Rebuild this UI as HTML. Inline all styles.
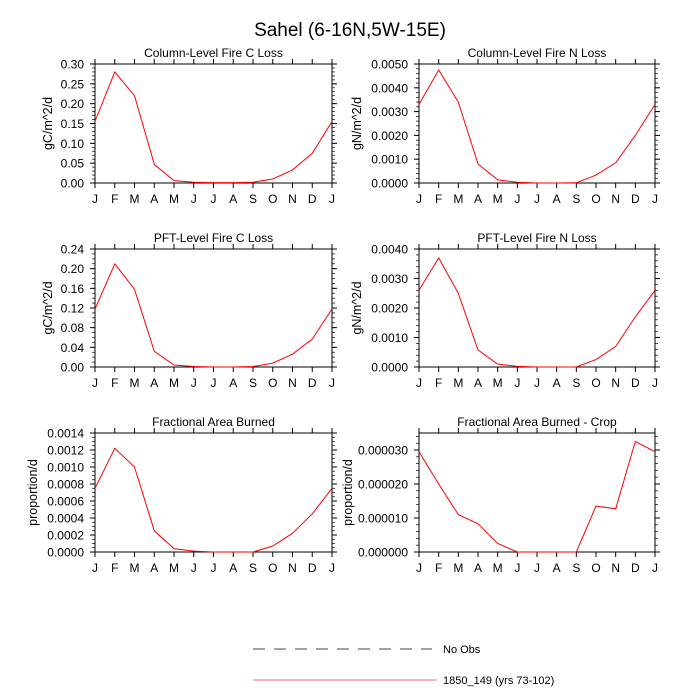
<!DOCTYPE html>
<html><head><meta charset="utf-8">
<style>
body{margin:0;background:#fff;}
svg{display:block;font-family:"Liberation Sans",Arial,sans-serif;}
</style></head>
<body>
<svg id="chart" width="700" height="700" viewBox="0 0 700 700">
<text x="350" y="36" text-anchor="middle" font-size="19">Sahel (6-16N,5W-15E)</text>
<g id="panels"></g>
<g>
<line x1="253" y1="649" x2="432" y2="649" stroke="#444" stroke-width="1" stroke-dasharray="12,9"/>
<text x="443" y="653" font-size="11">No Obs</text>
<line x1="253" y1="680" x2="437" y2="680" stroke="#f66" stroke-width="1"/>
<text x="443" y="684" font-size="11">1850_149 (yrs 73-102)</text>
</g>
</svg>
<script>
const months = ["J","F","M","A","M","J","J","A","S","O","N","D","J"];
const colC = [0.155,0.28,0.22,0.047,0.006,0.002,0.001,0.001,0.002,0.01,0.033,0.075,0.155];
const colN = [0.0033,0.00475,0.0034,0.0008,0.00013,0.00003,0,0,0.00001,0.00033,0.00085,0.002,0.0033];
const pftC = [0.118,0.21,0.158,0.032,0.004,0.001,0,0,0.001,0.008,0.026,0.057,0.118];
const pftN = [0.0026,0.0037,0.0025,0.00058,0.0001,0.00002,0,0,0,0.00025,0.0007,0.0017,0.0026];
const fab = [0.00075,0.00122,0.001,0.00025,0.00004,0.00001,0,0,0,0.00007,0.00022,0.00045,0.00075];
const fabCrop = [0.0000295,0.00002,0.000011,0.0000083,0.0000025,0,0,0,0,0.0000135,0.0000127,0.0000325,0.0000295];
const ticksColC = ["0.00","0.05","0.10","0.15","0.20","0.25","0.30"];
const ticksColN = ["0.0000","0.0010","0.0020","0.0030","0.0040","0.0050"];
const ticksPftC = ["0.00","0.04","0.08","0.12","0.16","0.20","0.24"];
const ticksPftN = ["0.0000","0.0010","0.0020","0.0030","0.0040"];
const ticksFab = ["0.0000","0.0002","0.0004","0.0006","0.0008","0.0010","0.0012","0.0014"];
const ticksCrop = ["0.000000","0.000010","0.000020","0.000030"];

const panels = [
 {name:"column-fire-c-loss",title:"Column-Level Fire C Loss",ylab:"gC/m^2/d",data:colC,ticks:ticksColC,ymax:0.30,minor:5,x0:95,x1:332,y0:64,y1:183},
 {name:"column-fire-n-loss",title:"Column-Level Fire N Loss",ylab:"gN/m^2/d",data:colN,ticks:ticksColN,ymax:0.005,minor:5,x0:419,x1:655,y0:64,y1:183},
 {name:"pft-fire-c-loss",title:"PFT-Level Fire C Loss",ylab:"gC/m^2/d",data:pftC,ticks:ticksPftC,ymax:0.24,minor:4,x0:95,x1:332,y0:249,y1:367},
 {name:"pft-fire-n-loss",title:"PFT-Level Fire N Loss",ylab:"gN/m^2/d",data:pftN,ticks:ticksPftN,ymax:0.004,minor:5,x0:419,x1:655,y0:249,y1:367},
 {name:"fractional-area-burned",title:"Fractional Area Burned",ylab:"proportion/d",data:fab,ticks:ticksFab,ymax:0.0014,minor:4,x0:95,x1:332,y0:433,y1:552},
 {name:"fractional-area-burned-crop",title:"Fractional Area Burned - Crop",ylab:"proportion/d",data:fabCrop,ticks:ticksCrop,ymax:0.000035,minor:5,x0:419,x1:655,y0:433,y1:552}
];
const NS="http://www.w3.org/2000/svg";
const root=document.getElementById("panels");
function mk(tag,attrs,parent){const e=document.createElementNS(NS,tag);for(const k in attrs)e.setAttribute(k,attrs[k]);parent.appendChild(e);return e;}
panels.forEach(p=>{
  const g=mk("g",{},root);
  
  
  const xs=i=>p.x0+(p.x1-p.x0)*i/(months.length-1);
  const ys=v=>p.y1-(p.y1-p.y0)*v/p.ymax;
  const fr=mk("rect",{x:p.x0,y:p.y0,width:p.x1-p.x0,height:p.y1-p.y0,fill:"none",stroke:"#000","stroke-width":1},g);
  
  
  const t=mk("text",{x:(p.x0+p.x1)/2,y:p.y0-7,"text-anchor":"middle","font-size":12},g);
  t.textContent=p.title;
  
  
  months.forEach((m,i)=>{
    const x=xs(i);
    mk("line",{x1:x,y1:p.y1,x2:x,y2:p.y1+5,stroke:"#000"},g);
    mk("line",{x1:x,y1:p.y0,x2:x,y2:p.y0-5,stroke:"#000"},g);
    const l=mk("text",{x:x,y:p.y1+20,"text-anchor":"middle","font-size":12},g);
    l.textContent=m;
    
    
  });
  p.ticks.forEach((lab)=>{
    const v=parseFloat(lab);
    const y=ys(v);
    mk("line",{x1:p.x0-5,y1:y,x2:p.x0,y2:y,stroke:"#000"},g);
    mk("line",{x1:p.x1,y1:y,x2:p.x1+5,y2:y,stroke:"#000"},g);
    const l=mk("text",{x:p.x0-11,y:y+4.5,"text-anchor":"end","font-size":12},g);
    l.textContent=lab;
    
    
  });
  const d=parseFloat(p.ticks[1])-parseFloat(p.ticks[0]);
  for(let k=0;k*d/p.minor<=p.ymax*(1+1e-9);k++){
    const y=ys(k*d/p.minor);
    mk("line",{x1:p.x0-3,y1:y,x2:p.x0,y2:y,stroke:"#000","stroke-width":0.7},g);
    mk("line",{x1:p.x1,y1:y,x2:p.x1+3,y2:y,stroke:"#000","stroke-width":0.7},g);
  }
  const len=p.ticks[0].length;
  const off=len>=8?71:(len>=6?62:47);
  const yl=mk("text",{x:0,y:0,"text-anchor":"middle","font-size":12.5,transform:`translate(${p.x0-off+4},${(p.y0+p.y1)/2}) rotate(-90)`},g);
  yl.textContent=p.ylab;
  
  
  const pts=p.data.map((v,i)=>xs(i).toFixed(1)+","+ys(v).toFixed(1)).join(" ");
  const pl=mk("polyline",{points:pts,fill:"none",stroke:"#f00","stroke-width":1},g);
  
  
});
</script>
</body></html>
